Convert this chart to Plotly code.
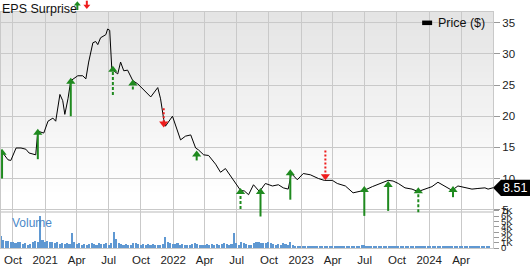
import plotly.graph_objects as go
import pandas as pd

# ---------------- data ----------------
price_dates = [
    "2020-08-28", "2020-09-17", "2020-09-25", "2020-10-10", "2020-10-24", "2020-11-07",
    "2020-11-16", "2020-12-05", "2020-12-11", "2020-12-28", "2021-01-09", "2021-01-23",
    "2021-01-31", "2021-02-06", "2021-02-12", "2021-02-20", "2021-02-23", "2021-02-26",
    "2021-03-07", "2021-03-15", "2021-04-04", "2021-04-18", "2021-04-27", "2021-05-05",
    "2021-05-17", "2021-05-25", "2021-05-31", "2021-06-08", "2021-06-23", "2021-06-28",
    "2021-07-04", "2021-07-10", "2021-07-15", "2021-07-27", "2021-08-04", "2021-08-13",
    "2021-08-24", "2021-09-08", "2021-09-22", "2021-10-06", "2021-10-20", "2021-10-29",
    "2021-11-18", "2021-11-26", "2021-12-05", "2021-12-10", "2021-12-30", "2022-01-08",
    "2022-01-22", "2022-02-05", "2022-02-20", "2022-03-06", "2022-03-14", "2022-03-29",
    "2022-04-12", "2022-05-02", "2022-05-16", "2022-05-30", "2022-06-13", "2022-06-28",
    "2022-07-12", "2022-07-23", "2022-08-04", "2022-08-18", "2022-09-04", "2022-09-21",
    "2022-10-11", "2022-10-28", "2022-11-11", "2022-11-25", "2022-12-04", "2022-12-21",
    "2023-01-07", "2023-01-27", "2023-02-19", "2023-03-08", "2023-03-31", "2023-04-14",
    "2023-05-07", "2023-05-29", "2023-06-13", "2023-06-30", "2023-07-23", "2023-08-14",
    "2023-09-06", "2023-09-20", "2023-10-05", "2023-10-24", "2023-11-13", "2023-11-30",
    "2023-12-20", "2024-01-09", "2024-01-26", "2024-02-15", "2024-03-06", "2024-03-23",
    "2024-04-12", "2024-05-02", "2024-05-19", "2024-06-08", "2024-06-17", "2024-07-01",
]
price_values = [
    14.5, 13.0, 12.9, 14.9, 14.9, 14.7,
    14.1, 13.8, 17.6, 17.3, 19.2, 19.7,
    19.2, 21.7, 23.5, 22.5, 21.0, 20.3,
    22.8, 25.7, 26.5, 26.5, 26.0, 28.7,
    31.8, 32.0, 31.5, 32.6, 33.1, 34.0,
    33.8, 27.6, 27.3, 26.8, 28.7, 27.3,
    27.4, 25.7, 25.2, 24.4, 23.6, 23.1,
    24.6, 22.8, 19.5, 18.4, 20.0, 18.4,
    16.2, 16.8, 17.0, 14.9, 14.6, 13.8,
    13.7, 12.3, 11.0, 11.6, 10.5, 9.4,
    8.1, 8.0, 7.4, 9.0, 7.9, 9.2,
    8.8, 9.0, 8.5, 8.3, 10.8, 9.8,
    10.8, 10.6, 10.0, 9.7, 9.7, 9.2,
    8.8, 7.7, 7.9, 8.1, 8.7, 9.2,
    9.7, 9.6, 9.2, 8.5, 8.3, 7.9,
    8.3, 8.7, 9.4, 8.8, 8.1, 8.8,
    8.5, 8.3, 8.4, 8.5, 8.3, 8.51,
]

# EPS surprise arrows: date, start price, tip price, beat (True=green up), dashed
eps_dates = ["2020-08-31", "2020-12-11", "2021-03-15", "2021-07-13", "2021-09-08",
             "2021-12-05", "2022-03-09", "2022-07-12", "2022-09-07", "2022-12-01",
             "2023-03-11", "2023-06-30", "2023-09-06", "2023-12-01", "2024-03-09"]
eps_base = [10.0, 13.1, 20.0, 23.4, 24.3, 21.3, 12.9, 5.1, 3.9, 6.6, 14.5, 4.0, 4.8, 4.6, 7.0]
eps_tip = [14.6, 17.8, 26.0, 27.9, 25.7, 18.4, 14.3, 8.3, 8.3, 11.3, 9.9, 8.6, 9.4, 8.4, 8.6]
eps_beat = [True, True, True, True, True, False, True, True, True, True,
            False, True, True, True, True]
eps_dashed = [False, False, False, True, True, True, False, True, False, False,
              True, False, False, True, False]

# weekly volume (thousands, as labelled on the volume axis)
volume_k = [
    2.2, 1.6, 1.4, 1.3, 1.2,
    1.1, 0.9, 1.2, 1.1,
    0.8, 0.9, 0.6, 0.8,
    1.1, 1.4, 1.2, 6.1,
    1.6, 1.1, 1.4, 1.2, 1.1, 0.9,
    1.1, 0.8, 0.9, 0.8, 0.9, 0.8,
    2.8,
    1.1, 0.8, 0.9, 0.6, 0.8, 0.6, 0.8, 0.9, 0.8, 0.6, 0.9, 0.8, 0.8, 0.9, 0.6,
    0.9, 3.1,
    1.7, 0.9, 0.8, 0.6, 0.8, 0.6, 0.6, 0.9, 0.9, 0.8, 0.6, 0.8, 0.5, 0.8, 0.6, 0.8, 0.6, 0.5, 0.6, 0.8,
    2.0,
    1.1, 0.9, 0.8, 0.8, 0.9, 0.6, 0.8, 0.5, 0.6, 0.5, 0.8, 0.9, 0.8, 0.6, 0.5, 0.6, 0.8, 0.6, 0.8, 0.6,
    0.8, 0.6, 0.8, 0.9, 0.8, 0.6, 0.8,
    2.8,
    0.9, 0.6, 1.1, 0.9, 0.8, 0.6, 0.5, 0.9, 1.2, 1.1, 0.9, 1.0, 0.9, 1.1, 0.9, 0.8, 0.6, 0.8, 0.6, 0.9,
    0.8, 0.6,
    1.1,
    0.6, 0.4, 0.3, 0.3, 0.3, 0.2, 0.2, 0.3, 0.2, 0.2,
    0.2, 0.3, 0.2, 0.2, 0.2, 0.3, 0.2, 0.2, 0.2, 0.2,
    0.3, 0.2, 0.2, 0.3, 0.2, 0.3, 0.3, 0.4, 0.5, 0.5,
    0.4, 0.4, 0.3, 0.3, 0.3, 0.2, 0.3, 0.2, 0.3, 0.2,
    0.2, 0.3, 0.2, 0.2, 0.3, 0.2, 0.2, 0.3, 0.3, 0.4,
    0.3, 0.3, 0.2, 0.2, 0.2, 0.3, 0.2, 0.2, 0.2, 0.3,
    0.2, 0.2, 0.3, 0.2, 0.2, 0.2, 0.3, 0.2, 0.2, 0.2,
    0.2, 0.3, 0.2, 0.2, 0.2, 0.2, 0.2, 0.3, 0.2, 0.2,
    0.2,
]
volume_start = "2020-08-28"

x_tick_dates = ["2020-10-01", "2021-01-01", "2021-04-01", "2021-07-01", "2021-10-01",
                "2022-01-01", "2022-04-01", "2022-07-01", "2022-10-01", "2023-01-01",
                "2023-04-01", "2023-07-01", "2023-10-01", "2024-01-01", "2024-04-01"]
x_tick_text = ["Oct", "2021", "Apr", "Jul", "Oct", "2022", "Apr", "Jul", "Oct", "2023",
               "Apr", "Jul", "Oct", "2024", "Apr"]
price_ticks = [5, 10, 15, 20, 25, 30, 35]
vol_ticks = [0, 1, 2, 3, 4, 5, 6, 7]
vol_tick_text = ["0", "1K", "2K", "3K", "4K", "5K", "6K", "7K"]
last_price = 8.51

# ---------------- layout constants ----------------
W, H = 530, 266
ML, MR, MT, MB = 0, 37, 12, 14
PW, PH = W - ML - MR, H - MT - MB
GREEN = "#1f8a1f"
RED = "#ee1c1c"
GRID = "#c9c9c9"
FONT = "Liberation Sans, Arial, sans-serif"


def px(xp):
    return (xp - ML) / PW


def py(yp):
    return (H - MB - yp) / PH


fig = go.Figure()

# volume bars
vol_dates = pd.date_range(volume_start, periods=len(volume_k), freq="7D")
fig.add_trace(go.Bar(x=vol_dates, y=volume_k, yaxis="y2", marker_color="#5f98d2",
                     marker_line_width=0, width=4.5 * 86400000, hoverinfo="skip"))

# price line
fig.add_trace(go.Scatter(x=price_dates, y=price_values, mode="lines",
                         line=dict(color="black", width=1), hoverinfo="skip"))

# EPS arrows
head = 0.45
groups = {}
for d, b, t, beat, dashed in zip(eps_dates, eps_base, eps_tip, eps_beat, eps_dashed):
    key = (beat, dashed)
    xs, ys = groups.setdefault(key, ([], []))
    end = t - head if beat else t + head
    xs += [d, d, None]
    ys += [b, end, None]
for (beat, dashed), (xs, ys) in groups.items():
    fig.add_trace(go.Scatter(
        x=xs, y=ys, mode="lines", hoverinfo="skip",
        line=dict(color=GREEN if beat else RED, width=2,
                  dash=("3px,2px" if beat else "2px,2px") if dashed else "solid")))
for beat in (True, False):
    xs = [d for d, bt in zip(eps_dates, eps_beat) if bt == beat]
    ys = [(t - head) if beat else (t + head) for t, bt in zip(eps_tip, eps_beat) if bt == beat]
    fig.add_trace(go.Scatter(
        x=xs, y=ys, mode="markers", hoverinfo="skip",
        marker=dict(symbol="triangle-up" if beat else "triangle-down", size=8,
                    color=GREEN if beat else RED, line_width=0)))

# background gradient (grey at top fading to white)
shapes = []
nb = 30
top_p, bot_p = 1.0, py(195)
for i in range(nb):
    y1 = top_p - (top_p - bot_p) * i / nb
    y0 = top_p - (top_p - bot_p) * (i + 1) / nb
    c = int(228 + (255 - 228) * (i + 0.5) / nb)
    shapes.append(dict(type="rect", xref="paper", yref="paper", x0=0, x1=1, y0=y0, y1=y1,
                       fillcolor=f"rgb({c},{c},{c})", line_width=0, layer="below"))

# separator line for volume panel
shapes.append(dict(type="line", xref="paper", yref="paper", x0=0, x1=1,
                   y0=py(215.5), y1=py(215.5), line=dict(color="#dcdcdc", width=2),
                   layer="below"))

# legend swatch
shapes.append(dict(type="rect", xref="paper", yref="paper", x0=px(422), x1=px(432),
                   y0=py(25.3), y1=py(20.7), fillcolor="black", line_width=0))

# EPS Surprise header arrows
shapes.append(dict(type="line", xref="paper", yref="paper", x0=px(76.5), x1=px(76.5),
                   y0=py(10), y1=py(4.5), line=dict(color=GREEN, width=2)))
shapes.append(dict(type="path", xref="paper", yref="paper",
                   path=f"M{px(73)},{py(5.5)} L{px(80)},{py(5.5)} L{px(76.5)},{py(1)} Z",
                   fillcolor=GREEN, line_width=0))
shapes.append(dict(type="line", xref="paper", yref="paper", x0=px(86), x1=px(86),
                   y0=py(0.5), y1=py(5), line=dict(color=RED, width=2)))
shapes.append(dict(type="path", xref="paper", yref="paper",
                   path=f"M{px(82.5)},{py(4.5)} L{px(89.5)},{py(4.5)} L{px(86)},{py(9)} Z",
                   fillcolor=RED, line_width=0))

# last-price tag
u = 1 / 6.333
shapes.append(dict(type="path", xref="paper", yref="y",
                   path=(f"M{px(493)},{last_price} L{px(501)},{last_price + 8.3 * u} "
                         f"L{px(531)},{last_price + 8.3 * u} L{px(531)},{last_price - 8.3 * u} "
                         f"L{px(501)},{last_price - 8.3 * u} Z"),
                   fillcolor="black", line_width=0))

annotations = [
    dict(text="EPS Surprise", xref="paper", yref="paper", x=px(-1), y=py(0),
         xanchor="left", yanchor="top", showarrow=False,
         font=dict(family=FONT, size=12.5, color="#111")),
    dict(text="Price ($)", xref="paper", yref="paper", x=px(435.5), y=py(23),
         xanchor="left", yanchor="middle", showarrow=False,
         font=dict(family=FONT, size=12.5, color="#111")),
    dict(text="Volume", xref="paper", yref="paper", x=px(9.5), y=py(227),
         xanchor="left", yanchor="middle", showarrow=False,
         font=dict(family=FONT, size=12, color="#4a88c8")),
    dict(text=f"{last_price:.2f}", xref="paper", yref="y", x=px(515), y=last_price,
         xanchor="center", yanchor="middle", showarrow=False,
         font=dict(family=FONT, size=12.5, color="white")),
]

fig.update_layout(
    width=W, height=H,
    margin=dict(l=ML, r=MR, t=MT, b=MB, pad=0),
    paper_bgcolor="white", plot_bgcolor="white",
    showlegend=False, bargap=0,
    shapes=shapes, annotations=annotations,
    xaxis=dict(type="date", range=["2020-08-28", "2024-07-01"],
               tickvals=x_tick_dates, ticktext=x_tick_text,
               showgrid=True, gridcolor=GRID, gridwidth=1,
               ticks="", showline=True, linecolor=GRID, mirror=True,
               tickfont=dict(family=FONT, size=11.5, color="#222"), ticklabelstandoff=1),
    yaxis=dict(side="right", range=[5 - 39 * u, 35 + 11 * u],
               tickvals=price_ticks, showgrid=True, gridcolor=GRID, gridwidth=1,
               zeroline=False, ticks="outside", ticklen=6, tickcolor="#999",
               showline=True, linecolor=GRID, mirror=True,
               tickfont=dict(family=FONT, size=11.5, color="#222")),
    yaxis2=dict(overlaying="y", side="right", range=[0, PH / 5.4],
                tickvals=vol_ticks, ticktext=vol_tick_text, showgrid=False,
                zeroline=False, ticks="outside", ticklen=5, tickcolor="#999",
                tickfont=dict(family=FONT, size=9.5, color="#222")),
)

fig.write_html("out.html")
